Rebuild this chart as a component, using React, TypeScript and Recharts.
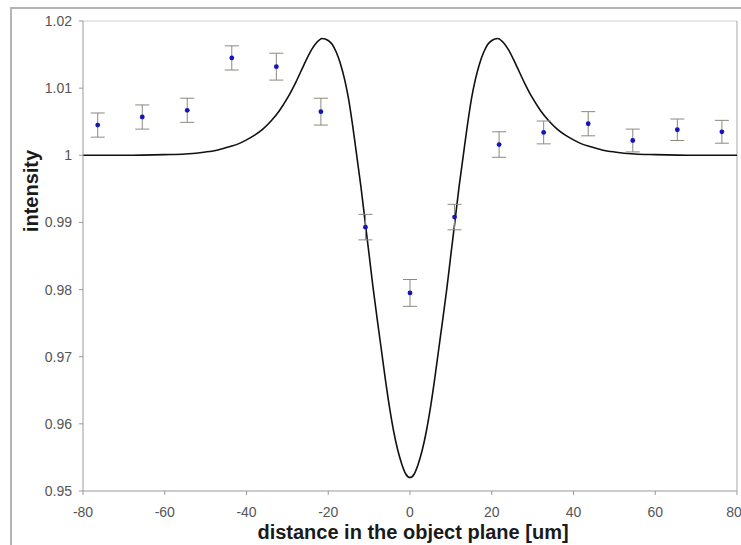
import React from 'react';
import {
  ComposedChart,
  Line,
  Scatter,
  ErrorBar,
  XAxis,
  YAxis,
  ReferenceLine,
} from 'recharts';

// measured points (blue dots with error bars)
const pointX = [-76.4, -65.5, -54.5, -43.6, -32.7, -21.8, -10.9, 0, 10.9, 21.8, 32.7, 43.6, 54.5, 65.4, 76.3];
const pointY = [1.0045, 1.0057, 1.0067, 1.0145, 1.0132, 1.0065, 0.9893, 0.9795, 0.9908, 1.0016, 1.0034, 1.0047, 1.0022, 1.0038, 1.0035];
const pointErr = [0.0018, 0.0018, 0.0018, 0.0018, 0.002, 0.002, 0.0019, 0.002, 0.0019, 0.0019, 0.0017, 0.0018, 0.0017, 0.0016, 0.0017];

// model curve
const curveX = [
  -80, -70, -60, -55, -50, -47, -44, -42, -40, -38, -36, -34, -32, -30, -28, -26, -24, -22.5, -21.5, -20,
  -19, -18, -17, -16, -15, -14, -13, -12, -11, -10, -9, -8, -7, -6, -5, -4, -3, -2, -1, 0,
  1, 2, 3, 4, 5, 6, 7, 8, 9, 10, 11, 12, 13, 14, 15, 16, 17, 18, 19, 20,
  21.5, 22.5, 24, 26, 28, 30, 32, 34, 36, 38, 40, 42, 44, 47, 50, 55, 60, 70, 80,
];
const curveY = [
  1.0, 1.0, 1.0001, 1.0002, 1.0005, 1.0008, 1.0013, 1.0017, 1.0023, 1.003, 1.0039, 1.0051, 1.0066, 1.0085, 1.0108, 1.0134, 1.0158, 1.017, 1.0174, 1.0171,
  1.0165, 1.0153, 1.0136, 1.0113, 1.0083, 1.0043, 0.9998, 0.9953, 0.9902, 0.9852, 0.9801, 0.9755, 0.971, 0.9665, 0.9624, 0.9589, 0.9561, 0.954, 0.9525, 0.952,
  0.9525, 0.954, 0.9561, 0.9589, 0.9624, 0.9665, 0.971, 0.9755, 0.9801, 0.9852, 0.9902, 0.9953, 0.9998, 1.0043, 1.0083, 1.0113, 1.0136, 1.0153, 1.0165, 1.0171,
  1.0174, 1.017, 1.0158, 1.0134, 1.0108, 1.0085, 1.0066, 1.0051, 1.0039, 1.003, 1.0023, 1.0017, 1.0013, 1.0008, 1.0005, 1.0002, 1.0001, 1.0, 1.0,
];

const xTicks = [-80, -60, -40, -20, 0, 20, 40, 60, 80];
const yTicks = [0.95, 0.96, 0.97, 0.98, 0.99, 1, 1.01, 1.02];

const points = pointX.map((x, i) => ({ x, y: pointY[i], err: pointErr[i] }));
const curve = curveX.map((x, i) => ({ x, y: curveY[i] }));

const FONT = '"Liberation Sans", Arial, sans-serif';

const Dot = (props: any) => <circle cx={props.cx} cy={props.cy} r={2.4} fill="#1414b8" />;

export default function App() {
  return (
    <div style={{ position: 'absolute', left: 0, top: 0, width: 741, height: 545, overflow: 'hidden', background: '#fff' }}>
      <div
        style={{
          position: 'absolute',
          left: 10,
          top: 7,
          width: 740,
          height: 545,
          borderLeft: '2px solid #b4b4b4',
          borderTop: '2px solid #b4b4b4',
        }}
      />
      <ComposedChart
        width={741}
        height={545}
        margin={{ top: 21, right: 4, bottom: 0, left: 0 }}
        style={{ position: 'absolute', left: 0, top: 0, fontFamily: FONT }}
      >
        <XAxis
          type="number"
          dataKey="x"
          domain={[-80, 80]}
          ticks={xTicks}
          height={54}
          stroke="#999"
          tickSize={4}
          tickMargin={12}
          tick={{ fill: '#555', fontSize: 14 }}
          label={{
            content: () => (
              <text x={413} y={539} textAnchor="middle" fontSize={20} fontWeight="bold" fill="#1a1a1a" fontFamily={FONT}>
                distance in the object plane [um]
              </text>
            ),
          }}
        />
        <YAxis
          type="number"
          dataKey="y"
          domain={[0.95, 1.02]}
          ticks={yTicks}
          width={83}
          stroke="#999"
          tickSize={4}
          tickMargin={7}
          tick={{ fill: '#555', fontSize: 14 }}
          tickFormatter={(v: number) => String(Number(v.toFixed(2)))}
          label={{
            content: () => (
              <text
                x={38}
                y={191}
                transform="rotate(-90 38 191)"
                textAnchor="middle"
                fontSize={20}
                fontWeight="bold"
                fill="#1a1a1a"
                fontFamily={FONT}
              >
                intensity
              </text>
            ),
          }}
        />
        <ReferenceLine y={1.02} stroke="#cfcfcf" />
        <ReferenceLine x={80} stroke="#a8a8a8" />
        <Line
          data={curve}
          dataKey="y"
          type="monotone"
          stroke="#111"
          strokeWidth={1.6}
          dot={false}
          isAnimationActive={false}
        />
        <Scatter data={points} dataKey="y" shape={Dot} isAnimationActive={false}>
          <ErrorBar dataKey="err" direction="y" width={7} stroke="#8a8a80" strokeWidth={1} isAnimationActive={false} />
        </Scatter>
      </ComposedChart>
    </div>
  );
}
